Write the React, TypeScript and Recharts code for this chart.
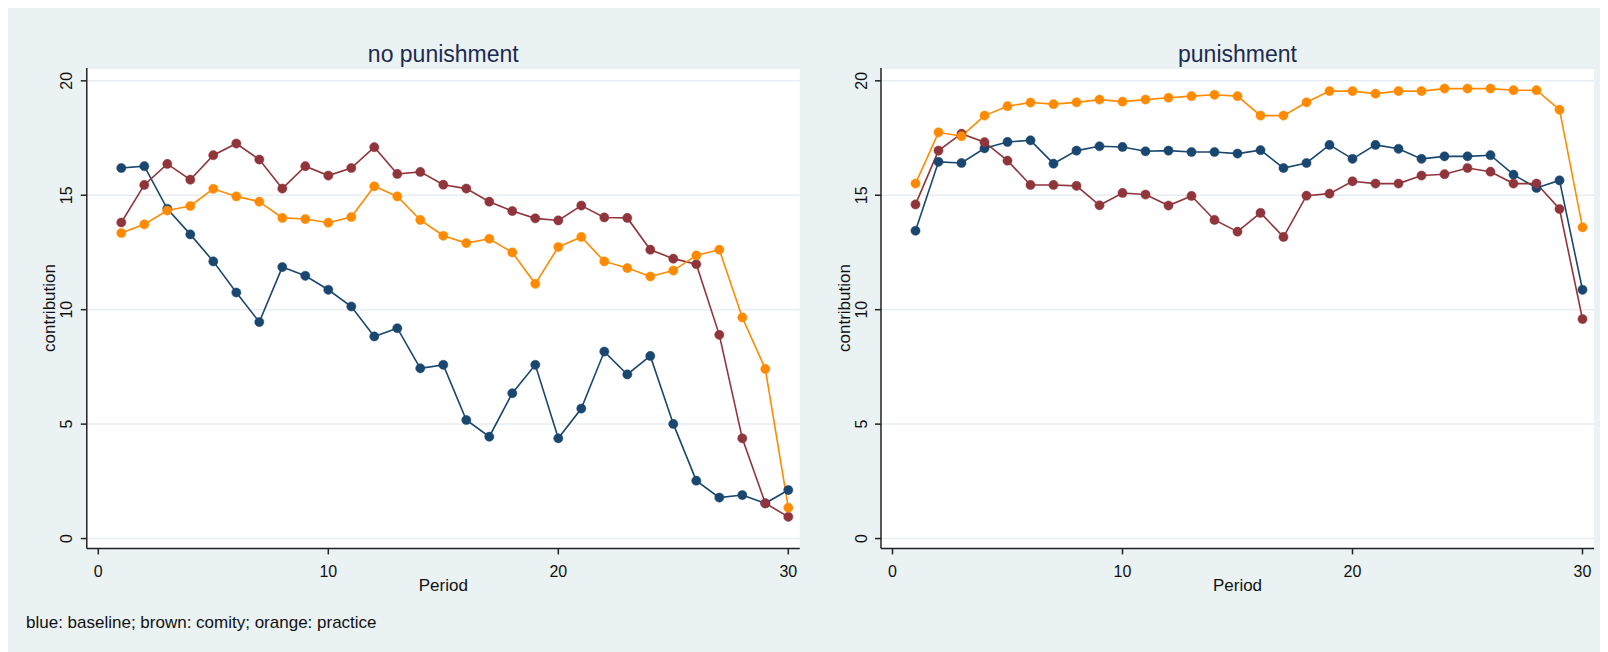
import React from 'react';
import { LineChart, Line, XAxis, YAxis, CartesianGrid } from 'recharts';

const periods = [1, 2, 3, 4, 5, 6, 7, 8, 9, 10, 11, 12, 13, 14, 15, 16, 17, 18, 19, 20, 21, 22, 23, 24, 25, 26, 27, 28, 29, 30];

const noPunBaseline = [16.19, 16.27, 14.41, 13.29, 12.11, 10.75, 9.46, 11.86, 11.48, 10.87, 10.14, 8.83, 9.19, 7.44, 7.59, 5.18, 4.45, 6.35, 7.59, 4.38, 5.68, 8.17, 7.17, 7.98, 5.01, 2.53, 1.79, 1.9, 1.54, 2.12];
const noPunComity = [13.81, 15.45, 16.37, 15.68, 16.75, 17.26, 16.56, 15.29, 16.27, 15.86, 16.19, 17.1, 15.93, 16.02, 15.46, 15.29, 14.72, 14.31, 13.99, 13.9, 14.55, 14.03, 14.01, 12.62, 12.23, 11.99, 8.9, 4.38, 1.54, 0.95];
const noPunPractice = [13.35, 13.73, 14.33, 14.53, 15.28, 14.95, 14.72, 14.01, 13.96, 13.8, 14.05, 15.39, 14.95, 13.92, 13.23, 12.91, 13.1, 12.5, 11.13, 12.74, 13.18, 12.11, 11.82, 11.45, 11.71, 12.37, 12.62, 9.66, 7.41, 1.35];

const punBaseline = [13.45, 16.46, 16.41, 17.05, 17.33, 17.4, 16.38, 16.95, 17.14, 17.11, 16.92, 16.95, 16.89, 16.89, 16.82, 16.97, 16.19, 16.41, 17.2, 16.59, 17.2, 17.03, 16.59, 16.7, 16.7, 16.75, 15.9, 15.32, 15.65, 10.87];
const punComity = [14.6, 16.95, 17.69, 17.32, 16.51, 15.45, 15.45, 15.41, 14.56, 15.1, 15.03, 14.55, 14.97, 13.92, 13.41, 14.23, 13.18, 14.98, 15.07, 15.61, 15.51, 15.51, 15.86, 15.92, 16.19, 16.03, 15.51, 15.51, 14.4, 9.59];
const punPractice = [15.51, 17.75, 17.58, 18.48, 18.89, 19.05, 18.98, 19.06, 19.18, 19.09, 19.18, 19.26, 19.33, 19.39, 19.33, 18.48, 18.48, 19.06, 19.55, 19.55, 19.44, 19.55, 19.55, 19.66, 19.66, 19.66, 19.59, 19.59, 18.74, 13.6];

const xTicks = [0, 10, 20, 30];
const yTicks = [0, 5, 10, 15, 20];

const panelTitles = ['no punishment', 'punishment'];
const xAxisTitle = 'Period';
const yAxisTitle = 'contribution';
const note = 'blue: baseline; brown: comity; orange: practice';

const seriesKeys = ['baseline', 'comity', 'practice'];
const seriesColors = ['#1A476F', '#90353B', '#FF8A00'];

const build = (b: number[], c: number[], p: number[]) =>
  periods.map((period, i) => ({ period, baseline: b[i], comity: c[i], practice: p[i] }));

const noPunData = build(noPunBaseline, noPunComity, noPunPractice);
const punData = build(punBaseline, punComity, punPractice);

const FONT = '"Liberation Sans", Arial, Helvetica, sans-serif';
const BG = '#EAF2F3';

const YTick = (props: any) => {
  const { x, y, payload } = props;
  const cx = x - 12;
  return (
    <text x={cx} y={y} transform={`rotate(-90, ${cx}, ${y})`} textAnchor="middle" dy="0.35em"
      fontSize={16} fontFamily={FONT} fill="#111">
      {payload.value}
    </text>
  );
};

const XTick = (props: any) => {
  const { x, y, payload } = props;
  return (
    <text x={x} y={y + 14.6} textAnchor="middle" dy="0.35em" fontSize={16} fontFamily={FONT} fill="#111">
      {payload.value}
    </text>
  );
};

const PLOT_W = 713;

function Panel({ data, left, width, yAxisWidth }: { data: any[]; left: number; width: number; yAxisWidth: number }) {
  const height = 600;
  const xAxisHeight = 50;
  const top = 60;
  const plotH = 480.4;
  const marginRight = width - yAxisWidth - PLOT_W;
  const marginBottom = height - top - plotH - xAxisHeight;
  return (
    <div style={{ position: 'absolute', left, top: 0 }}>
      <LineChart width={width} height={height} data={data}
        margin={{ top, right: marginRight, bottom: marginBottom, left: 0 }}>
        <CartesianGrid vertical={false} horizontal stroke="#E6EEF1" strokeWidth={1.5} fill="#FFFFFF" />
        <XAxis type="number" dataKey="period" domain={[-0.5, 30.5]} ticks={xTicks} allowDataOverflow
          height={xAxisHeight} tickSize={6} tickMargin={2} tick={<XTick />} interval={0}
          axisLine={{ stroke: '#222', strokeWidth: 1.5 }} tickLine={{ stroke: '#222', strokeWidth: 1.5 }} />
        <YAxis type="number" domain={[-0.43, 20.56]} ticks={yTicks} allowDataOverflow
          width={yAxisWidth} tickSize={6} tickMargin={2} tick={<YTick />} interval={0}
          axisLine={{ stroke: '#222', strokeWidth: 1.5 }} tickLine={{ stroke: '#222', strokeWidth: 1.5 }} />
        {seriesKeys.map((k, i) => (
          <Line key={k} type="linear" dataKey={k} stroke={seriesColors[i]} strokeWidth={1.6}
            dot={{ r: 4.6, fill: seriesColors[i], stroke: seriesColors[i], strokeWidth: 0.5 }}
            activeDot={false} isAnimationActive={false} />
        ))}
      </LineChart>
    </div>
  );
}

export default function App() {
  const leftPlotX = 78.8;
  const rightPlotX = 873;
  const textStyle = { fontFamily: FONT };
  return (
    <div style={{ position: 'relative', width: 1600, height: 644, background: BG, overflow: 'hidden' }}>
      <Panel data={noPunData} left={0} width={805} yAxisWidth={leftPlotX} />
      <Panel data={punData} left={800} width={800} yAxisWidth={rightPlotX - 800} />
      <svg width={1600} height={644} style={{ position: 'absolute', left: 0, top: 0, pointerEvents: 'none' }}>
        <text x={leftPlotX + PLOT_W / 2} y={54} textAnchor="middle" fontSize={23} fill="#1C2A50" style={textStyle}>{panelTitles[0]}</text>
        <text x={rightPlotX + PLOT_W / 2} y={54} textAnchor="middle" fontSize={23} fill="#1C2A50" style={textStyle}>{panelTitles[1]}</text>
        <text x={leftPlotX + 356.5} y={583} textAnchor="middle" fontSize={17} fill="#111" style={textStyle}>{xAxisTitle}</text>
        <text x={rightPlotX + 356.5} y={583} textAnchor="middle" fontSize={17} fill="#111" style={textStyle}>{xAxisTitle}</text>
        <text x={41} y={300} transform="rotate(-90, 41, 300)" textAnchor="middle" dy="0.35em" fontSize={17} fill="#111" style={textStyle}>{yAxisTitle}</text>
        <text x={836} y={300} transform="rotate(-90, 836, 300)" textAnchor="middle" dy="0.35em" fontSize={17} fill="#111" style={textStyle}>{yAxisTitle}</text>
        <text x={18} y={620} fontSize={17} fill="#111" style={textStyle}>{note}</text>
      </svg>
    </div>
  );
}
